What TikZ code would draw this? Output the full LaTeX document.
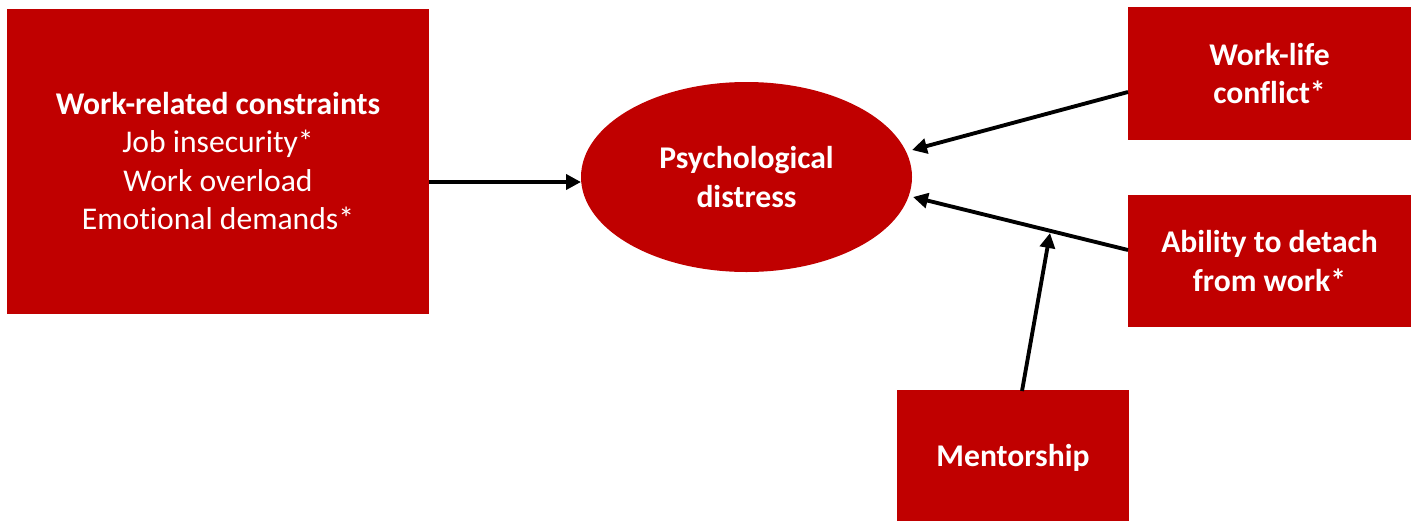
\documentclass[tikz,border=0pt]{standalone}
\usepackage{fontspec}
\setmainfont{Carlito}[Ligatures=NoCommon]
\usetikzlibrary{arrows.meta,shapes.geometric}
\definecolor{boxred}{HTML}{C00000}
\begin{document}
\begin{tikzpicture}[x=0.02cm,y=-0.02cm,
  redbox/.style={fill=boxred,draw=none,text=white,align=center,inner sep=0pt,
     font=\fontsize{18}{22}\selectfont},
  conn/.style={line width=2.2pt,-{Triangle[length=8.5pt,width=8.5pt]}}]
\useasboundingbox (0,0) rectangle (1412,521);
\node[redbox,minimum width=422*0.02cm,minimum height=305*0.02cm] (wrc) at (218,161)
  {\textbf{Work-related constraints}\\Job insecurity*\\Work overload\\Emotional demands*};
\node[redbox,ellipse,minimum width=331*0.02cm,minimum height=190*0.02cm] (pd) at (746.5,177)
  {\textbf{Psychological}\\\textbf{distress}};
\node[redbox,minimum width=283*0.02cm,minimum height=133*0.02cm] (wlc) at (1269.5,73.5)
  {\textbf{Work-life}\\\textbf{conflict*}};
\node[redbox,minimum width=283*0.02cm,minimum height=132*0.02cm] (atd) at (1269.5,261)
  {\textbf{Ability to detach}\\\textbf{from work*}};
\node[redbox,minimum width=232*0.02cm,minimum height=131*0.02cm] (men) at (1013,455.5) {};
\node[text=white,font=\fontsize{18}{22}\selectfont\bfseries,inner sep=0pt,anchor=base] (menT) at (1013,466) {Mentorship};
\coordinate (wrcA) at (429,182);
\coordinate (pdA) at (581,182);
\coordinate (wlcA) at (1128,92);
\coordinate (pdB) at (912,150);
\coordinate (atdA) at (1128,250);
\coordinate (pdC) at (913,197);
\coordinate (menA) at (1022,391);
\coordinate (mid) at (1050,233);
\draw[conn] (wrcA) -- (pdA);
\draw[conn] (wlcA) -- (pdB);
\draw[conn] (atdA) -- (pdC);
\draw[conn] (menA) -- (mid);
\end{tikzpicture}
\end{document}
